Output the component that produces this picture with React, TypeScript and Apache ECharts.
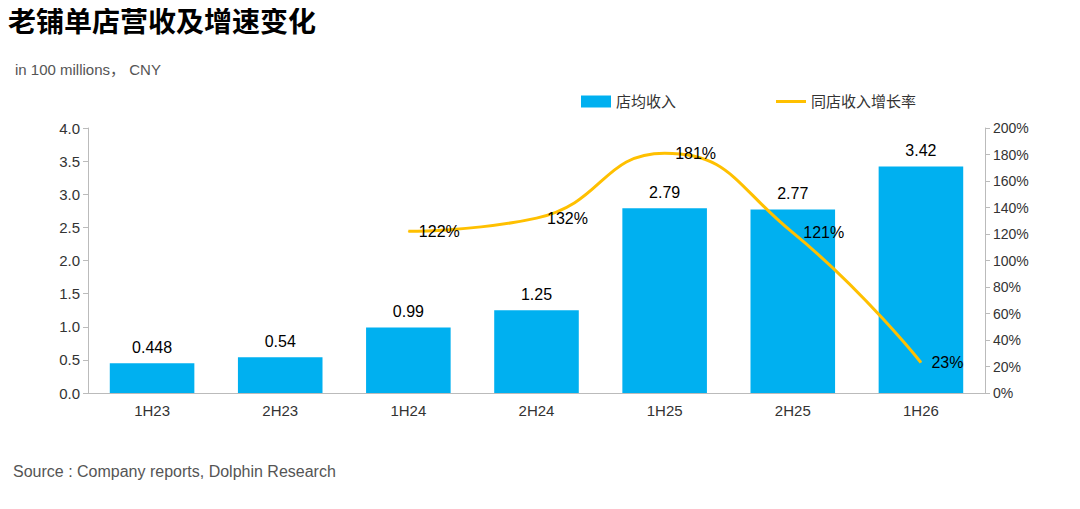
import { useEffect, useRef } from "react";
import * as echarts from "echarts";

const periods = ["1H23", "2H23", "1H24", "2H24", "1H25", "2H25", "1H26"];
const revenue = [0.448, 0.54, 0.99, 1.25, 2.79, 2.77, 3.42];
const growth = [null, null, 122, 132, 181, 121, 23];

const App: React.FC = () => {
  const chartRef = useRef<HTMLDivElement>(null);

  useEffect(() => {
    if (!chartRef.current) return;
    const chart = echarts.init(chartRef.current, null, { renderer: "svg" });
    const font = "Helvetica, Arial, 'Noto Sans CJK SC', sans-serif";
    chart.setOption({
      animation: false,
      backgroundColor: "#fff",
      textStyle: { fontFamily: font },
      title: [
        {
          text: "老铺单店营收及增速变化",
          left: 0,
          top: 0,
          padding: 0,
          textStyle: { fontSize: 28, fontWeight: "bold", color: "#000", fontFamily: font },
        },
        {
          text: "in 100 millions， CNY",
          left: 2,
          top: 49,
          textStyle: { fontSize: 15, fontWeight: "normal", color: "#555", fontFamily: font },
        },
        {
          text: "Source : Company reports, Dolphin Research",
          left: 0,
          top: 450,
          textStyle: { fontSize: 16, fontWeight: "normal", color: "#555", fontFamily: font },
        },
      ],
      legend: {
        top: 81,
        left: 568,
        itemGap: 100,
        itemWidth: 30,
        itemHeight: 12,
        textStyle: { fontSize: 15, color: "#333" },
        data: [
          { name: "店均收入", icon: "rect" },
          { name: "同店收入增长率", icon: "path://M0,0 L30,0 L30,3 L0,3 Z" },
        ],
      },
      grid: { left: 80, right: 87, top: 120, bottom: 108 },
      xAxis: {
        type: "category",
        data: periods,
        axisLine: { lineStyle: { color: "#bbb" } },
        axisTick: { show: false },
        axisLabel: { color: "#333", fontSize: 15, margin: 10 },
      },
      yAxis: [
        {
          type: "value",
          min: 0,
          max: 4,
          interval: 0.5,
          axisLine: { show: true, lineStyle: { color: "#bbb" } },
          axisTick: { show: true, lineStyle: { color: "#bbb" } },
          splitLine: { show: false },
          axisLabel: { color: "#333", fontSize: 15, formatter: (v: number) => v.toFixed(1) },
        },
        {
          type: "value",
          min: 0,
          max: 200,
          interval: 20,
          axisLine: { show: true, lineStyle: { color: "#bbb" } },
          axisTick: { show: true, lineStyle: { color: "#bbb" } },
          splitLine: { show: false },
          axisLabel: { color: "#333", fontSize: 14, formatter: "{value}%" },
        },
      ],
      series: [
        {
          name: "店均收入",
          type: "bar",
          data: revenue,
          barWidth: "66%",
          itemStyle: { color: "#00B0F0" },
          label: { show: true, position: "top", color: "#000", fontSize: 16, distance: 8 },
        },
        {
          name: "同店收入增长率",
          type: "line",
          yAxisIndex: 1,
          data: growth,
          smooth: 0.5,
          showSymbol: true,
          symbol: "circle",
          symbolSize: 1,
          lineStyle: { color: "#FFC000", width: 3 },
          itemStyle: { color: "#FFC000" },
          label: {
            show: true,
            position: "right",
            distance: 10,
            color: "#000",
            fontSize: 16,
            formatter: (p: any) => p.value + "%",
          },
        },
      ],
    });
    return () => chart.dispose();
  }, []);

  return <div ref={chartRef} style={{ width: 1064, height: 493 }} />;
};

export default App;
